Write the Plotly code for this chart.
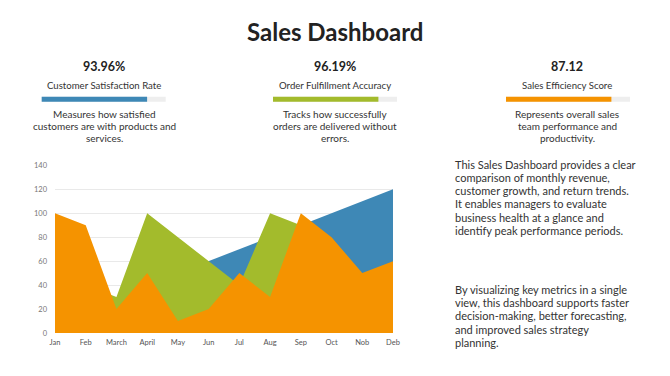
import plotly.graph_objects as go

months = ["Jan", "Feb", "March", "April", "May", "Jun", "Jul", "Aug", "Sep", "Oct", "Nob", "Deb"]
series_blue = [10, 20, 30, 40, 50, 60, 70, 80, 90, 100, 110, 120]
series_green = [50, 40, 30, 100, 80, 60, 40, 100, 90, 70, 40, 50]
series_orange = [100, 90, 20, 50, 10, 20, 50, 30, 100, 80, 50, 60]
y_ticks = [0, 20, 40, 60, 80, 100, 120, 140]

kpi_values = ["93.96%", "96.19%", "87.12"]
kpi_labels = ["Customer Satisfaction Rate", "Order Fulfillment Accuracy", "Sales Efficiency Score"]
kpi_fill = [0.85, 0.85, 0.85]
kpi_desc = [
    ["Measures how satisfied", "customers are with products and", "services."],
    ["Tracks how successfully", "orders are delivered without", "errors."],
    ["Represents overall sales", "team performance and", "productivity."],
]
para1 = ["This Sales Dashboard provides a clear", "comparison of monthly revenue,",
         "customer growth, and return trends.", "It enables managers to evaluate",
         "business health at a glance and", "identify peak performance periods."]
para2 = ["By visualizing key metrics in a single", "view, this dashboard supports faster",
         "decision-making, better forecasting,", "and improved sales strategy", "planning."]

colors = ["#3E88B6", "#A3BB2C", "#F59300"]
FONT = "Lato, 'Open Sans', sans-serif"
W, H = 670, 376
OFF = 8  # page body margin offset


def px(x):
    return (x - OFF) / W


def py(y):
    return 1 - (y - OFF) / H


fig = go.Figure()
for vals, col in zip([series_blue, series_green, series_orange], colors):
    fig.add_trace(go.Scatter(
        x=months, y=vals, mode="lines", fill="tozeroy",
        line=dict(width=0, color=col), fillcolor=col, hoverinfo="x+y",
    ))

fig.update_layout(
    width=W, height=H,
    margin=dict(l=0, r=0, t=0, b=0),
    paper_bgcolor="white", plot_bgcolor="white",
    showlegend=False,
    font=dict(family=FONT, color="#333333"),
    xaxis=dict(domain=[px(55), px(393)], range=[0, 11], showgrid=False, zeroline=False,
               showline=False, tickfont=dict(size=7.5, color="#555555"), ticks="",
               ticklabelstandoff=3, automargin=False),
    yaxis=dict(domain=[py(333), py(165.3)], range=[0, 140], tickvals=y_ticks,
               showgrid=True, gridcolor="#e9e9e9", gridwidth=1, zeroline=False,
               showline=False, tickfont=dict(size=7.5, color="#777777"), ticks="",
               ticklabelstandoff=7, automargin=False),
)

annotations = [dict(text="<b>Sales Dashboard</b>", x=px(335), y=py(31.5), xref="paper", yref="paper",
                    showarrow=False, font=dict(size=24, color="#222222", family=FONT),
                    xanchor="center", yanchor="middle")]
shapes = []
centers = [104, 335, 567]
bar_left = [41.7, 273, 506]
track_w = 124
for i in range(3):
    cx = centers[i]
    annotations.append(dict(text="<b>" + kpi_values[i] + "</b>", x=px(cx), y=py(66),
                            xref="paper", yref="paper", showarrow=False,
                            font=dict(size=12.5, color="#222222", family=FONT),
                            xanchor="center", yanchor="middle"))
    annotations.append(dict(text=kpi_labels[i], x=px(cx), y=py(85.5),
                            xref="paper", yref="paper", showarrow=False,
                            font=dict(size=9.6, color="#333333", family=FONT),
                            xanchor="center", yanchor="middle"))
    for j, line in enumerate(kpi_desc[i]):
        annotations.append(dict(text=line, x=px(cx), y=py(113.5 + 12 * j),
                                xref="paper", yref="paper", showarrow=False,
                                font=dict(size=10, color="#333333", family=FONT),
                                xanchor="center", yanchor="middle"))
    x0 = bar_left[i]
    shapes.append(dict(type="line", xref="paper", yref="paper",
                       x0=px(x0), x1=px(x0 + track_w), y0=py(99.3), y1=py(99.3),
                       line=dict(color="#eeeeee", width=5)))
    shapes.append(dict(type="line", xref="paper", yref="paper",
                       x0=px(x0), x1=px(x0 + track_w * kpi_fill[i]),
                       y0=py(99.3), y1=py(99.3),
                       line=dict(color=colors[i], width=5)))

for j, line in enumerate(para1):
    annotations.append(dict(text=line, x=px(452.5), y=py(164 + 13.33 * j), xref="paper", yref="paper",
                            showarrow=False, align="left", xanchor="left", yanchor="middle",
                            font=dict(size=11, color="#333333", family=FONT)))
for j, line in enumerate(para2):
    annotations.append(dict(text=line, x=px(452.5), y=py(289.3 + 13.33 * j), xref="paper", yref="paper",
                            showarrow=False, align="left", xanchor="left", yanchor="middle",
                            font=dict(size=11, color="#333333", family=FONT)))

fig.update_layout(annotations=annotations, shapes=shapes)
fig.write_html("out.html")
